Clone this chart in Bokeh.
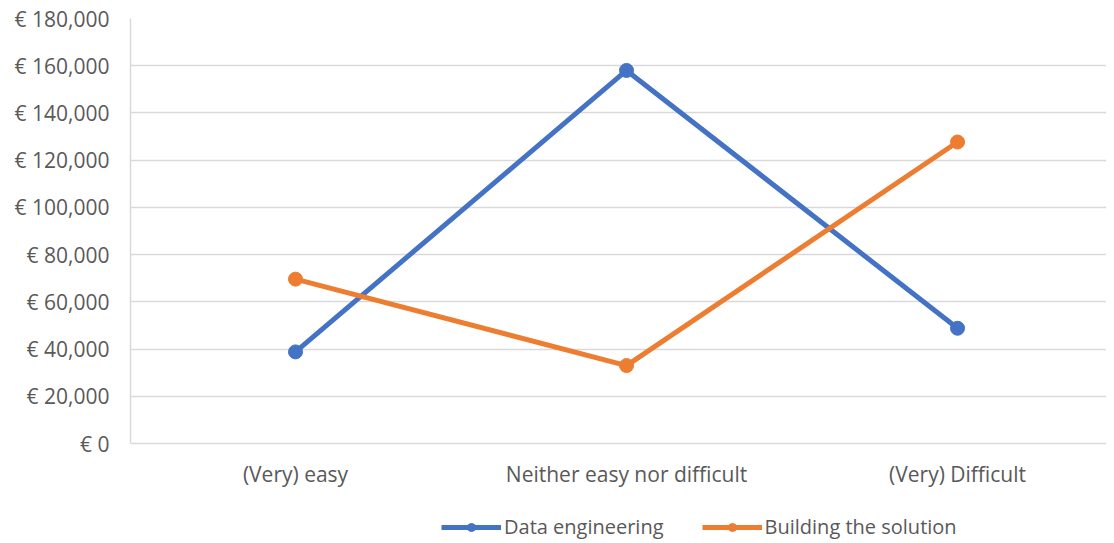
from bokeh.plotting import figure
from bokeh.layouts import column
from bokeh.models import Range1d, FixedTicker, Legend, LegendItem
from bokeh.embed import file_html
from bokeh.resources import INLINE

categories = ["(Very) easy", "Neither easy nor difficult", "(Very) Difficult"]
data_engineering = [38800, 158000, 48800]
building_solution = [69600, 33000, 127700]
series_names = ["Data engineering", "Building the solution"]
y_ticks = [0, 20000, 40000, 60000, 80000, 100000, 120000, 140000, 160000, 180000]
y_tick_labels = ["€ 0", "€ 20,000", "€ 40,000", "€ 60,000", "€ 80,000", "€ 100,000",
                 "€ 120,000", "€ 140,000", "€ 160,000", "€ 180,000"]

x_pos = [i + 0.5 for i in range(len(categories))]

FONT = "Open Sans"
LABEL_COLOR = "#595959"
GRID_COLOR = "#D9D9D9"
BLUE = "#4472C4"
ORANGE = "#ED7D31"

p = figure(frame_width=976, frame_height=425, output_backend="svg", toolbar_location=None,
           x_range=Range1d(0.0015, 2.95), y_range=Range1d(0, 180000),
           min_border_left=130, min_border_top=18, min_border_right=0, min_border_bottom=50)
p.outline_line_color = None
p.background_fill_color = "white"
p.border_fill_color = "white"

# axes
p.yaxis.ticker = FixedTicker(ticks=y_ticks)
p.yaxis.major_label_overrides = {t: l for t, l in zip(y_ticks, y_tick_labels)}
p.xaxis.ticker = FixedTicker(ticks=x_pos)
p.xaxis.major_label_overrides = {x: c for x, c in zip(x_pos, categories)}
for ax in (p.xaxis, p.yaxis):
    ax.major_tick_line_color = None
    ax.minor_tick_line_color = None
    ax.axis_line_color = GRID_COLOR
    ax.axis_line_width = 1.5
    ax.major_label_text_font = FONT
    ax.major_label_text_font_size = "21px"
    ax.major_label_text_color = LABEL_COLOR
p.yaxis.major_label_standoff = 15
p.xaxis.major_label_standoff = 10

p.xgrid.grid_line_color = None
p.ygrid.grid_line_color = GRID_COLOR
p.ygrid.grid_line_width = 1.5

# series
p.line(x_pos, data_engineering, line_color=BLUE, line_width=5)
p.scatter(x_pos, data_engineering, size=14, fill_color=BLUE, line_color=BLUE)
p.line(x_pos, building_solution, line_color=ORANGE, line_width=5)
p.scatter(x_pos, building_solution, size=14, fill_color=ORANGE, line_color=ORANGE)

# legend strip below the chart
lp = figure(width=1106, height=50, output_backend="svg", toolbar_location=None,
            x_range=Range1d(0, 1), y_range=Range1d(0, 1),
            x_axis_location=None, y_axis_location=None,
            min_border_left=0, min_border_right=0, min_border_top=0, min_border_bottom=0)
lp.outline_line_color = None
lp.grid.visible = False
lp.border_fill_color = "white"

items = []
for name, vals, col in zip(series_names, [data_engineering, building_solution], [BLUE, ORANGE]):
    lr = lp.line(x_pos, vals, line_color=col, line_width=5, visible=False)
    sr = lp.scatter(x_pos, vals, size=14, fill_color=col, line_color=col, visible=False)
    items.append(LegendItem(label=name, renderers=[lr, sr]))

legend = Legend(items=items, orientation="horizontal", location=(311, 3),
                label_text_font=FONT, label_text_font_size="20px", label_text_color=LABEL_COLOR,
                glyph_width=60, glyph_height=20, label_standoff=3, spacing=38,
                padding=0, margin=0, border_line_color=None, background_fill_alpha=0,
                inactive_fill_alpha=0)
lp.add_layout(legend, "center")

layout = column(p, lp, spacing=0)
open("out.html", "w").write(file_html(layout, INLINE))
